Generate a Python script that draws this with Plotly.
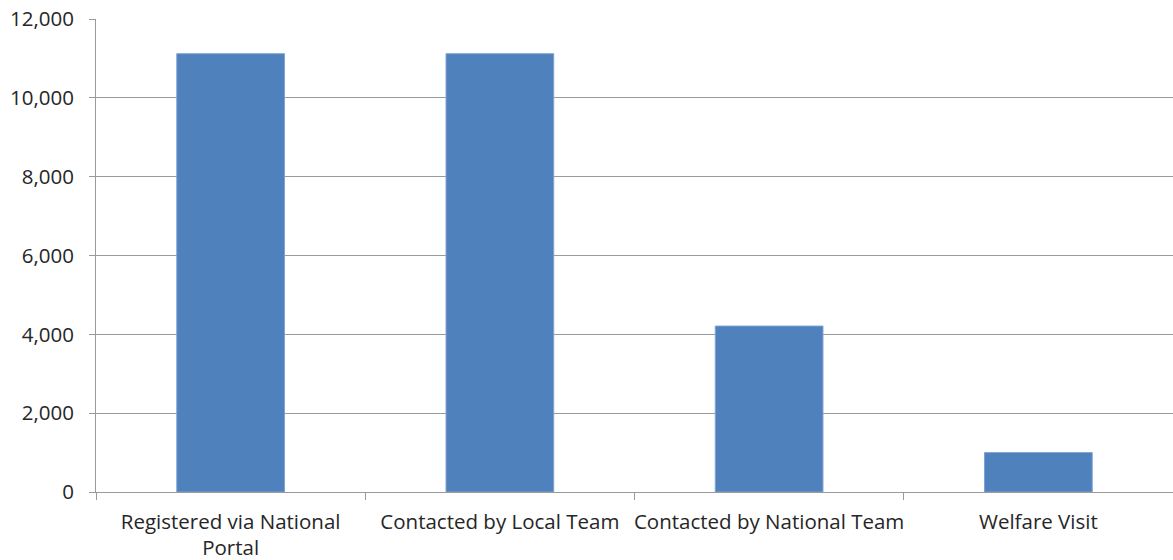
import plotly.graph_objects as go

categories = ["Registered via National<br>Portal", "Contacted by Local Team",
              "Contacted by National Team", "Welfare Visit"]
counts = [11120, 11120, 4210, 1000]
y_ticks = [0, 2000, 4000, 6000, 8000, 10000, 12000]
y_tick_labels = ["0", "2,000", "4,000", "6,000", "8,000", "10,000", "12,000"]

grey = "#9a9a9a"
text_color = "#262626"
font_size = 20.5

fig = go.Figure(
    go.Bar(
        x=categories,
        y=counts,
        marker=dict(color="#4F81BD", line=dict(color="#7fa3d1", width=1)),
        width=0.4,
    )
)

fig.update_layout(
    width=1173,
    height=560,
    margin=dict(l=96, r=0, t=19, b=68),
    plot_bgcolor="white",
    paper_bgcolor="white",
    showlegend=False,
    font=dict(family="Open Sans, sans-serif", size=font_size, color=text_color),
)

fig.update_xaxes(
    showline=True,
    linecolor=grey,
    linewidth=1,
    showgrid=False,
    ticks="outside",
    tickson="boundaries",
    ticklen=7,
    tickcolor=grey,
    tickangle=0,
    automargin=False,
    ticklabelstandoff=11,
    tickfont=dict(size=font_size, color=text_color),
)

fig.update_yaxes(
    range=[0, 12000],
    tickvals=y_ticks,
    ticktext=y_tick_labels,
    showline=True,
    linecolor=grey,
    linewidth=1,
    showgrid=True,
    gridcolor=grey,
    gridwidth=1,
    ticks="outside",
    ticklen=6,
    tickcolor=grey,
    automargin=False,
    ticklabelstandoff=11,
    tickfont=dict(size=font_size, color=text_color),
    zeroline=False,
)

fig.write_html("out.html")
